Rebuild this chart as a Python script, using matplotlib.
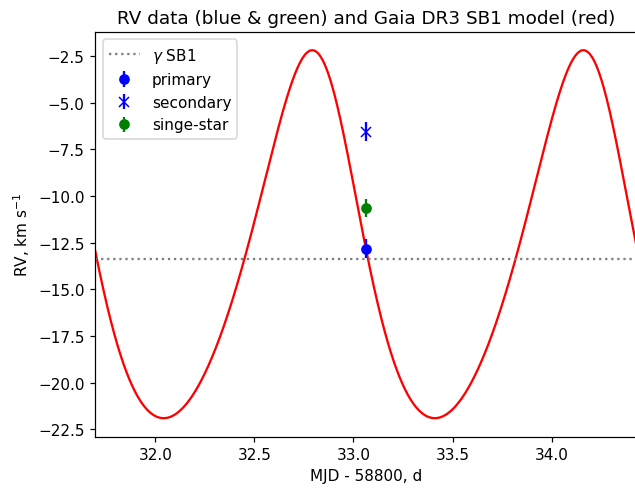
import numpy as np
import matplotlib.pyplot as plt

# Gaia DR3 SB1 orbital solution
period = 1.368      # d
k1 = 9.85           # km/s
ecc = 0.156
omega = 0.499       # rad
gamma = -13.4       # km/s
t_peri = 32.871     # MJD - 58800

# observed RVs
t_obs = [33.065]
rv_primary = [-12.83]
err_primary = [0.5]
rv_secondary = [-6.56]
err_secondary = [0.5]
rv_single = [-10.64]
err_single = [0.5]

xlim = (31.697, 34.43)


def kepler_rv(t):
    M = 2 * np.pi * (t - t_peri) / period
    E = M.copy()
    for _ in range(50):
        E = E - (E - ecc * np.sin(E) - M) / (1 - ecc * np.cos(E))
    nu = 2 * np.arctan2(np.sqrt(1 + ecc) * np.sin(E / 2), np.sqrt(1 - ecc) * np.cos(E / 2))
    return gamma + k1 * (np.cos(nu + omega) + ecc * np.cos(omega))


t_model = np.linspace(xlim[0], xlim[1], 2000)

dpi = 110
fig, ax = plt.subplots(figsize=(635 / dpi, 490 / dpi), dpi=dpi)
fig.subplots_adjust(left=0.15, right=1.003, top=0.933, bottom=0.107)

ax.plot(t_model, kepler_rv(t_model), color="red")
ax.axhline(gamma, color="grey", linestyle=":", label=r"$\gamma$ SB1")
ax.errorbar(t_obs, rv_primary, yerr=err_primary, fmt="o", color="blue", label="primary")
ax.errorbar(t_obs, rv_secondary, yerr=err_secondary, fmt="x", color="blue", label="secondary")
ax.errorbar(t_obs, rv_single, yerr=err_single, fmt="o", color="green", label="singe-star")

ax.set_xlim(*xlim)
ax.set_title("RV data (blue & green) and Gaia DR3 SB1 model (red)")
ax.set_xlabel("MJD - 58800, d")
ax.set_ylabel(r"RV, km s$^{-1}$")
ax.legend(loc="upper left")

fig.savefig("out.png", dpi=dpi)
